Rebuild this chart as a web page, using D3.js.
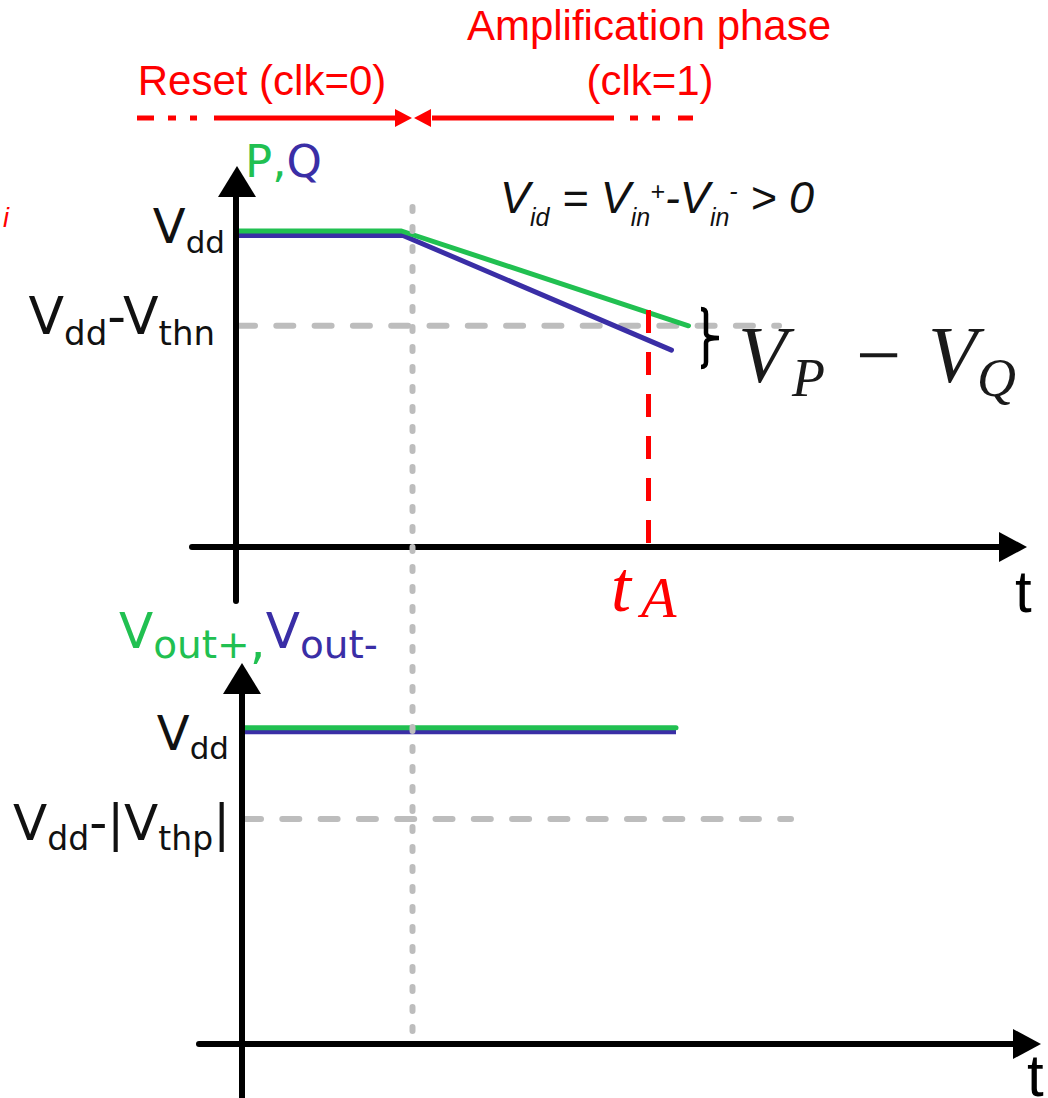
<!DOCTYPE html>
<html>
<head>
<meta charset="utf-8">
<script src="https://cdn.jsdelivr.net/npm/d3@7"></script>
<style>
  html, body { margin: 0; padding: 0; background: #fff; }
  svg { display: block; }
  text { font-family: "Liberation Sans", Arial, sans-serif; }
  text.lbl { font-family: "DejaVu Sans", Verdana, sans-serif; }
  text.math { font-family: "Liberation Serif", "DejaVu Serif", serif; }
</style>
</head>
<body>
<script>
// ---- data -------------------------------------------------------------
// time axis in arbitrary units, voltages normalised to Vdd = 1
const phaseLabels = ["Reset (clk=0)", "Amplification phase", "(clk=1)"];
const resetEnd = 35.4;          // end of reset phase (arrow meeting point)
const clkEdge = 35.3;           // dotted marker of the clock edge
const tA = 82.5;                // time t_A
const vthnLevel = 0.70;         // Vdd - Vthn (top panel)
const vthpLevel = 0.711;        // Vdd - |Vthp| (bottom panel)

// node voltages P (green) and Q (blue)
const traceP = [ {t: 0, v: 1.0}, {t: 33.1, v: 1.0}, {t: 90.5, v: 0.700} ];
const traceQ = [ {t: 0, v: 0.986}, {t: 33.4, v: 0.986}, {t: 87.1, v: 0.623} ];

// outputs Vout+ (green) and Vout- (blue)
const traceOutP = [ {t: 1.2, v: 1.0}, {t: 88, v: 1.0} ];
const traceOutM = [ {t: 1.2, v: 0.987}, {t: 88, v: 0.987} ];

// header arrow pieces [from, to] in time units
const resetDashes = [[-19.8, -16.4], [-13.6, -12.0], [-9.2, -7.8]];
const resetSolid = [-4.4, 32.2];
const ampSolid = [39.2, 75.6];
const ampDashes = [[78.8, 80.4], [83.2, 84.8], [88.4, 91.4]];

// ---- layout ----------------------------------------------------------
const W = 1048, H = 1098;
const green = "#21c051", blue = "#3a2ea6", red = "#ff0000", grey = "#bdbdbd", ink = "#111";

const svg = d3.select("body").append("svg").attr("width", W).attr("height", H);

const x = d3.scaleLinear().domain([0, 100]).range([236, 736]);
const yTop = d3.scaleLinear().domain([0, 1]).range([547, 231]);
const yBot = d3.scaleLinear().domain([0, 1]).range([1044, 727.7]);

const line = ys => d3.line().x(d => x(d.t)).y(d => ys(d.v));

// arrow head polygon helper
function head(g, tip, dir, len, half, color) {
  const [tx, ty] = tip;
  let pts;
  if (dir === "right") pts = [[tx, ty], [tx - len, ty - half], [tx - len, ty + half]];
  if (dir === "left")  pts = [[tx, ty], [tx + len, ty - half], [tx + len, ty + half]];
  if (dir === "up")    pts = [[tx, ty], [tx - half, ty + len], [tx + half, ty + len]];
  g.append("polygon").attr("points", pts.map(p => p.join(",")).join(" ")).attr("fill", color);
}

// ---- header: phase arrows and labels ---------------------------------
const hdr = svg.append("g");
const yArrow = 118;
hdr.append("text").attr("x", 649).attr("y", 40).attr("text-anchor", "middle")
  .attr("font-size", 42).attr("fill", red).text(phaseLabels[1]);
hdr.append("text").attr("x", 650).attr("y", 95).attr("text-anchor", "middle")
  .attr("font-size", 42).attr("fill", red).text(phaseLabels[2]);
hdr.append("text").attr("x", 262).attr("y", 95).attr("text-anchor", "middle")
  .attr("font-size", 42).attr("fill", red).text(phaseLabels[0]);

const segs = [...resetDashes, resetSolid, ampSolid, ...ampDashes];
hdr.selectAll("line.seg").data(segs).join("line")
  .attr("x1", d => x(d[0])).attr("x2", d => x(d[1]))
  .attr("y1", yArrow).attr("y2", yArrow)
  .attr("stroke", red).attr("stroke-width", 5);
head(hdr, [x(resetEnd) - 1, yArrow], "right", 17, 9, red);
head(hdr, [x(resetEnd) + 1, yArrow], "left", 17, 9, red);

// ---- top panel --------------------------------------------------------
const topG = svg.append("g");

// reference level Vdd - Vthn
topG.append("line")
  .attr("x1", 238).attr("x2", 779).attr("y1", yTop(vthnLevel)).attr("y2", yTop(vthnLevel))
  .attr("stroke", grey).attr("stroke-width", 6).attr("stroke-linecap", "round")
  .attr("stroke-dasharray", "17 21.3");

topG.append("path").datum(traceQ).attr("d", line(yTop))
  .attr("fill", "none").attr("stroke", blue).attr("stroke-width", 5)
  .attr("stroke-linecap", "round").attr("stroke-linejoin", "round");
topG.append("path").datum(traceP).attr("d", line(yTop))
  .attr("fill", "none").attr("stroke", green).attr("stroke-width", 5)
  .attr("stroke-linecap", "round").attr("stroke-linejoin", "round");

// t_A marker
topG.append("line")
  .attr("x1", x(tA)).attr("x2", x(tA)).attr("y1", yTop(0.75)).attr("y2", yTop(0))
  .attr("stroke", red).attr("stroke-width", 5).attr("stroke-dasharray", "23 19");

// axes
topG.append("line").attr("x1", 236).attr("x2", 236).attr("y1", 196).attr("y2", 601)
  .attr("stroke", "#000").attr("stroke-width", 6).attr("stroke-linecap", "round");
head(topG, [237, 166], "up", 31, 19, "#000");
topG.append("line").attr("x1", 192).attr("x2", 1002).attr("y1", 547).attr("y2", 547)
  .attr("stroke", "#000").attr("stroke-width", 6).attr("stroke-linecap", "round");
head(topG, [1027, 547], "right", 28, 15, "#000");

// brace marking V_P - V_Q
topG.append("path")
  .attr("d", "M701,309 Q706,309 706,314 V333 Q706,338 719,338 Q706,338 706,343 V362 Q706,367 701,367")
  .attr("fill", "none").attr("stroke", "#000").attr("stroke-width", 4.5);

// labels
const pq = topG.append("text").attr("class", "lbl").attr("x", 245).attr("y", 177).attr("font-size", 45);
pq.append("tspan").attr("fill", green).text("P,");
pq.append("tspan").attr("fill", blue).text("Q");

const vdd1 = topG.append("text").attr("class", "lbl").attr("x", 225).attr("y", 243).attr("text-anchor", "end")
  .attr("font-size", 48).attr("fill", ink);
vdd1.append("tspan").text("V");
vdd1.append("tspan").attr("font-size", 31).attr("dy", 10).text("dd");

const vthn = topG.append("text").attr("class", "lbl").attr("x", 215).attr("y", 334).attr("text-anchor", "end")
  .attr("font-size", 52).attr("fill", ink);
vthn.append("tspan").text("V");
vthn.append("tspan").attr("font-size", 34).attr("dy", 11).text("dd");
vthn.append("tspan").attr("dy", -11).text("-V");
vthn.append("tspan").attr("font-size", 34).attr("dy", 11).text("thn");

const vid = topG.append("text").attr("x", 500).attr("y", 213)
  .attr("font-size", 45).attr("font-style", "italic").attr("fill", ink);
vid.append("tspan").text("V");
vid.append("tspan").attr("font-size", 25).attr("dy", 13).text("id");
vid.append("tspan").attr("dy", -13).text(" = V");
vid.append("tspan").attr("font-size", 25).attr("dy", 13).text("in");
vid.append("tspan").attr("font-size", 25).attr("dy", -26).text("+");
vid.append("tspan").attr("dy", 13).text("-V");
vid.append("tspan").attr("font-size", 25).attr("dy", 13).text("in");
vid.append("tspan").attr("font-size", 25).attr("dy", -26).text("-");
vid.append("tspan").attr("dy", 13).text(" > 0");

// V_P − V_Q, set piece by piece
const vpqParts = [
  {s: "V", x: 738, y: 382, size: 80, italic: true},
  {s: "P", x: 792, y: 396, size: 54, italic: true},
  {s: "\u2212", x: 856, y: 382, size: 80, italic: false},
  {s: "V", x: 928, y: 382, size: 80, italic: true},
  {s: "Q", x: 977, y: 396, size: 54, italic: true}
];
topG.selectAll("text.vpq").data(vpqParts).join("text")
  .attr("class", "math vpq")
  .attr("x", d => d.x).attr("y", d => d.y)
  .attr("font-size", d => d.size)
  .attr("font-style", d => d.italic ? "italic" : "normal")
  .attr("fill", "#1a1a1a").text(d => d.s);

topG.append("text").attr("class", "math").attr("x", 611).attr("y", 611)
  .attr("font-style", "italic").attr("font-size", 72).attr("fill", red).text("t");
topG.append("text").attr("class", "math").attr("x", 641).attr("y", 617)
  .attr("font-style", "italic").attr("font-size", 58).attr("fill", red).text("A");

topG.append("text").attr("x", 1015).attr("y", 612).attr("font-size", 60).attr("fill", "#000").text("t");

topG.append("text").attr("x", 3).attr("y", 227).attr("font-size", 27)
  .attr("font-style", "italic").attr("fill", red).text("i");

// ---- bottom panel -----------------------------------------------------
const botG = svg.append("g");

botG.append("line")
  .attr("x1", 244).attr("x2", 791).attr("y1", yBot(vthpLevel)).attr("y2", yBot(vthpLevel))
  .attr("stroke", grey).attr("stroke-width", 6).attr("stroke-linecap", "round")
  .attr("stroke-dasharray", "17 21.3");

botG.append("path").datum(traceOutM).attr("d", line(yBot))
  .attr("fill", "none").attr("stroke", blue).attr("stroke-width", 5);
botG.append("path").datum(traceOutP).attr("d", line(yBot))
  .attr("fill", "none").attr("stroke", green).attr("stroke-width", 5).attr("stroke-linecap", "round");

botG.append("line").attr("x1", 242).attr("x2", 242).attr("y1", 692).attr("y2", 1100)
  .attr("stroke", "#000").attr("stroke-width", 6);
head(botG, [242, 663], "up", 31, 19, "#000");
botG.append("line").attr("x1", 199).attr("x2", 1015).attr("y1", 1044).attr("y2", 1044)
  .attr("stroke", "#000").attr("stroke-width", 6).attr("stroke-linecap", "round");
head(botG, [1041, 1044], "right", 28, 15, "#000");

const vout = botG.append("text").attr("class", "lbl").attr("x", 119).attr("y", 648).attr("font-size", 50);
vout.append("tspan").attr("fill", green).text("V");
vout.append("tspan").attr("fill", green).attr("font-size", 39).attr("dy", 10).text("out+");
vout.append("tspan").attr("fill", green).text(",");
vout.append("tspan").attr("fill", blue).attr("dy", -10).text("V");
vout.append("tspan").attr("fill", blue).attr("font-size", 39).attr("dy", 10).text("out-");

const vdd2 = botG.append("text").attr("class", "lbl").attr("x", 229).attr("y", 750).attr("text-anchor", "end")
  .attr("font-size", 48).attr("fill", ink);
vdd2.append("tspan").text("V");
vdd2.append("tspan").attr("font-size", 31).attr("dy", 9).text("dd");

const vthp = botG.append("text").attr("class", "lbl").attr("x", 230).attr("y", 840).attr("text-anchor", "end")
  .attr("font-size", 50).attr("fill", ink);
vthp.append("tspan").text("V");
vthp.append("tspan").attr("font-size", 33).attr("dy", 10).text("dd");
vthp.append("tspan").attr("dy", -10).text("-|V");
vthp.append("tspan").attr("font-size", 33).attr("dy", 10).text("thp");
vthp.append("tspan").attr("dy", -10).text("|");

botG.append("text").attr("x", 1027).attr("y", 1096).attr("font-size", 60).attr("fill", "#000").text("t");

// ---- clock edge marker spanning both panels ---------------------------
svg.append("line")
  .attr("x1", x(clkEdge)).attr("x2", x(clkEdge)).attr("y1", 207).attr("y2", 1040)
  .attr("stroke", grey).attr("stroke-width", 6).attr("stroke-linecap", "round")
  .attr("stroke-dasharray", "4 16");
</script>
</body>
</html>
